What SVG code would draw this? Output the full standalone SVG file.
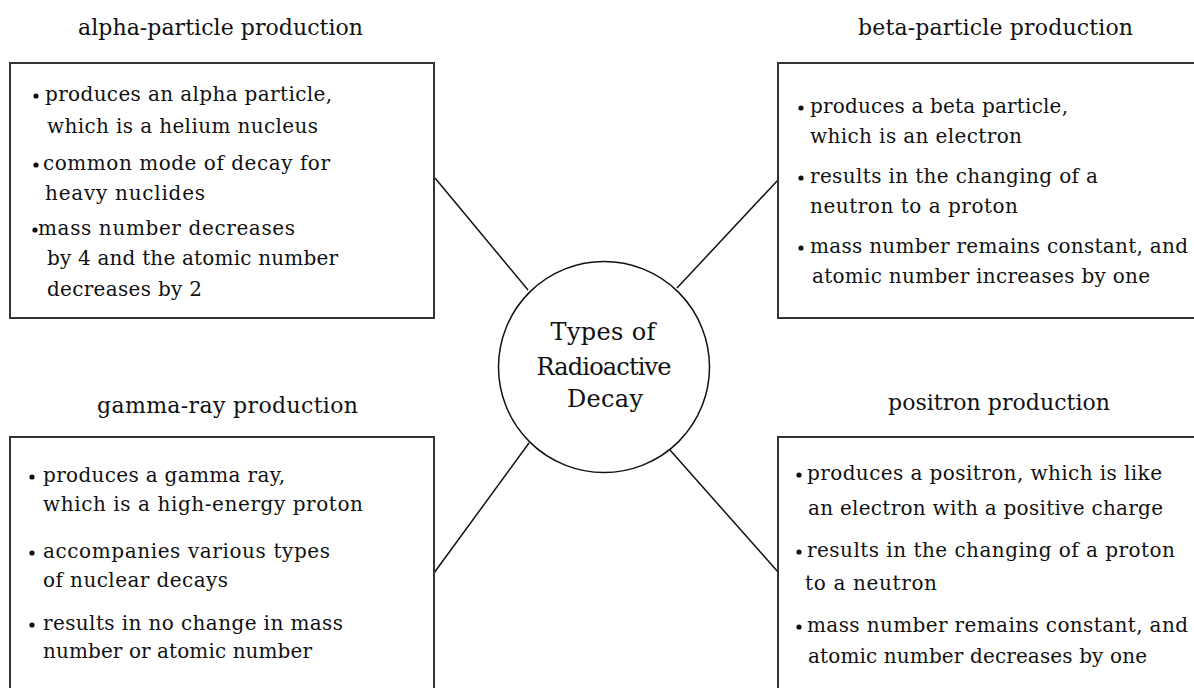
<svg xmlns="http://www.w3.org/2000/svg" width="1194" height="688" viewBox="0 0 1194 688">
<style>
.box{fill:#fff;stroke:#333;stroke-width:2}
.ttl{font-family:"DejaVu Serif",serif;font-size:22px;fill:#111}
.txt{font-family:"DejaVu Serif",serif;font-size:20px;fill:#111}
.ctr{font-family:"DejaVu Serif",serif;font-size:24px;fill:#111;text-anchor:middle}
.bul{fill:#111}
.conn{stroke:#111;stroke-width:1.5;fill:none}
</style>
<rect width="1194" height="688" fill="#fff"/>
<g id="connectors">
<line class="conn" x1="435" y1="178" x2="528" y2="290"/>
<line class="conn" x1="778" y1="180" x2="677" y2="288"/>
<line class="conn" x1="434" y1="573" x2="529" y2="443"/>
<line class="conn" x1="778" y1="572" x2="670" y2="450"/>
</g>
<g id="center">
<circle cx="604" cy="367" r="105.5" fill="#fff" stroke="#111" stroke-width="1.5"/>
<text class="ctr" x="603" y="340" textLength="105">Types of</text>
<text class="ctr" x="604" y="375" textLength="135">Radioactive</text>
<text class="ctr" x="605" y="407" textLength="76">Decay</text>
</g>
<g id="alpha">
<text class="ttl" x="78" y="35" textLength="285">alpha-particle production</text>
<rect class="box" x="10" y="63" width="424" height="255"/>
<circle class="bul" cx="36" cy="96" r="2.6"/>
<text class="txt" x="45" y="101" textLength="287">produces an alpha particle,</text>
<text class="txt" x="47" y="133" textLength="271">which is a helium nucleus</text>
<circle class="bul" cx="36" cy="165" r="2.6"/>
<text class="txt" x="43" y="170" textLength="287">common mode of decay for</text>
<text class="txt" x="45" y="200" textLength="160">heavy nuclides</text>
<circle class="bul" cx="35" cy="230" r="2.6"/>
<text class="txt" x="38" y="235" textLength="257">mass number decreases</text>
<text class="txt" x="47" y="265" textLength="291">by 4 and the atomic number</text>
<text class="txt" x="47" y="296" textLength="155">decreases by 2</text>
</g>
<g id="beta">
<text class="ttl" x="858" y="35" textLength="275">beta-particle production</text>
<rect class="box" x="778" y="63" width="440" height="255"/>
<circle class="bul" cx="801" cy="108" r="2.6"/>
<text class="txt" x="810" y="113" textLength="258">produces a beta particle,</text>
<text class="txt" x="810" y="143" textLength="212">which is an electron</text>
<circle class="bul" cx="801" cy="178" r="2.6"/>
<text class="txt" x="810" y="183" textLength="288">results in the changing of a</text>
<text class="txt" x="810" y="213" textLength="208">neutron to a proton</text>
<circle class="bul" cx="801" cy="248" r="2.6"/>
<text class="txt" x="810" y="253" textLength="378">mass number remains constant, and</text>
<text class="txt" x="812" y="283" textLength="338">atomic number increases by one</text>
</g>
<g id="gamma">
<text class="ttl" x="97" y="413" textLength="261">gamma-ray production</text>
<rect class="box" x="10" y="437" width="424" height="300"/>
<circle class="bul" cx="32" cy="477" r="2.6"/>
<text class="txt" x="43" y="482" textLength="242">produces a gamma ray,</text>
<text class="txt" x="43" y="511" textLength="320">which is a high-energy proton</text>
<circle class="bul" cx="32" cy="553" r="2.6"/>
<text class="txt" x="43" y="558" textLength="287">accompanies various types</text>
<text class="txt" x="43" y="587" textLength="185">of nuclear decays</text>
<circle class="bul" cx="32" cy="625" r="2.6"/>
<text class="txt" x="43" y="630" textLength="300">results in no change in mass</text>
<text class="txt" x="43" y="658" textLength="269">number or atomic number</text>
</g>
<g id="positron">
<text class="ttl" x="888" y="410" textLength="222">positron production</text>
<rect class="box" x="778" y="437" width="440" height="300"/>
<circle class="bul" cx="799" cy="475" r="2.6"/>
<text class="txt" x="807" y="480" textLength="355">produces a positron, which is like</text>
<text class="txt" x="808" y="515" textLength="355">an electron with a positive charge</text>
<circle class="bul" cx="799" cy="552" r="2.6"/>
<text class="txt" x="807" y="557" textLength="368">results in the changing of a proton</text>
<text class="txt" x="805" y="590" textLength="132">to a neutron</text>
<circle class="bul" cx="799" cy="627" r="2.6"/>
<text class="txt" x="807" y="632" textLength="381">mass number remains constant, and</text>
<text class="txt" x="808" y="663" textLength="339">atomic number decreases by one</text>
</g>
</svg>
